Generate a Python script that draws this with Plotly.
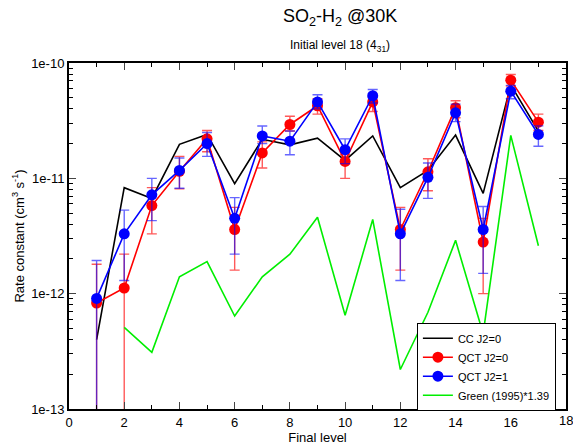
import plotly.graph_objects as go

levels = list(range(1, 18))
cc_j0 = [4.0e-13, 8.3e-12, 6.7e-12, 1.97e-11, 2.4e-11, 9.0e-12, 2.18e-11, 1.95e-11, 2.23e-11,
         1.43e-11, 2.33e-11, 8.3e-12, 1.17e-11, 2.37e-11, 7.4e-12, 6.45e-11, 2.57e-11]

qct_j0 = [8.3e-13, 1.12e-12, 5.8e-12, 1.15e-11, 2.2e-11, 3.6e-12, 1.66e-11, 2.93e-11, 4.26e-11,
          1.4e-11, 4.6e-11, 3.6e-12, 1.14e-11, 4.1e-11, 2.8e-12, 7.1e-11, 3.07e-11]
qct_j0_hi = [1.8e-12, 2.2e-12, 8.3e-12, 1.55e-11, 2.6e-11, 5.6e-12, 2.07e-11, 3.45e-11, 4.9e-11,
             1.6e-11, 5.1e-11, 5.6e-12, 1.48e-11, 4.7e-11, 4.5e-12, 7.95e-11, 3.6e-11]
qct_j0_lo = [1e-15, 1e-15, 3.3e-12, 8.1e-12, 1.7e-11, 1.6e-12, 1.23e-11, 2.57e-11, 3.6e-11,
             1.0e-11, 3.8e-11, 1.6e-12, 7.8e-12, 3.35e-11, 1.0e-12, 6.3e-11, 2.6e-11]

qct_j1 = [9.1e-13, 3.3e-12, 7.2e-12, 1.17e-11, 2.0e-11, 4.5e-12, 2.33e-11, 2.1e-11, 4.6e-11,
          1.77e-11, 5.2e-11, 3.3e-12, 1.02e-11, 3.7e-11, 3.6e-12, 5.7e-11, 2.4e-11]
qct_j1_hi = [1.94e-12, 5.3e-12, 1.0e-11, 1.5e-11, 2.5e-11, 6.8e-12, 2.84e-11, 2.57e-11, 5.3e-11,
             2.2e-11, 5.9e-11, 5.4e-12, 1.36e-11, 4.4e-11, 5.7e-12, 6.4e-11, 2.85e-11]
qct_j1_lo = [1e-15, 1.3e-12, 4.3e-12, 8.2e-12, 1.55e-11, 2.2e-12, 2.0e-11, 1.6e-11, 4.0e-11,
             1.34e-11, 4.5e-11, 1.3e-12, 6.7e-12, 3.1e-11, 1.5e-12, 4.9e-11, 1.9e-11]

green_levels = list(range(2, 18))
green = [5.1e-13, 3.1e-13, 1.4e-12, 1.9e-12, 6.4e-13, 1.4e-12, 2.2e-12, 4.6e-12, 6.5e-13,
         4.4e-12, 2.2e-13, 6.9e-13, 2.9e-12, 4.5e-13, 2.36e-11, 2.6e-12]

x_ticks = list(range(0, 19, 2))
y_tickvals = [1e-13, 1e-12, 1e-11, 1e-10]
y_ticktext = ["1e-13", "1e-12", "1e-11", "1e-10"]


def err(v, hi, lo):
    return [h - a for a, h in zip(v, hi)], [a - l for a, l in zip(v, lo)]


fig = go.Figure()
fig.add_trace(go.Scatter(x=levels, y=cc_j0, mode="lines", name="CC J2=0",
                         line=dict(color="black", width=1.6)))
p, m = err(qct_j0, qct_j0_hi, qct_j0_lo)
fig.add_trace(go.Scatter(x=levels, y=qct_j0, mode="lines+markers", name="QCT J2=0",
                         line=dict(color="#ff0000", width=1.6),
                         marker=dict(color="#ff0000", size=11),
                         error_y=dict(type="data", symmetric=False, array=p, arrayminus=m,
                                      color="rgba(255,0,0,0.65)", thickness=1.4, width=5)))
p, m = err(qct_j1, qct_j1_hi, qct_j1_lo)
fig.add_trace(go.Scatter(x=levels, y=qct_j1, mode="lines+markers", name="QCT J2=1",
                         line=dict(color="#0000ff", width=1.6),
                         marker=dict(color="#0000ff", size=11),
                         error_y=dict(type="data", symmetric=False, array=p, arrayminus=m,
                                      color="rgba(0,0,255,0.6)", thickness=1.4, width=5)))
fig.add_trace(go.Scatter(x=green_levels, y=green, mode="lines", name="Green (1995)*1.39",
                         line=dict(color="#00ee00", width=1.6)))

fig.update_layout(
    width=573, height=446,
    margin=dict(l=69, r=5, t=63, b=33),
    paper_bgcolor="white", plot_bgcolor="white",
    font=dict(family="Liberation Sans, Arial, sans-serif", color="black", size=12),
    showlegend=True,
    legend=dict(x=0.70, y=-0.005, xanchor="left", yanchor="bottom",
                bgcolor="white", bordercolor="black", borderwidth=1,
                font=dict(size=11), tracegroupgap=0, itemwidth=30),
    annotations=[
        dict(text="SO<sub>2</sub>-H<sub>2</sub> @30K", xref="paper", yref="paper",
             x=0.545, y=1.0, yshift=32, xanchor="center", yanchor="bottom",
             showarrow=False, font=dict(size=18)),
        dict(text="Initial level 18 (4<sub>31</sub>)", xref="paper", yref="paper",
             x=0.545, y=1.0, yshift=7, xanchor="center", yanchor="bottom",
             showarrow=False, font=dict(size=12)),
        dict(text="18", xref="x", yref="paper", x=18, y=0, yshift=-2,
             xanchor="center", yanchor="top", showarrow=False, font=dict(size=13)),
    ],
)
fig.update_xaxes(range=[0, 18], tickvals=x_ticks[:-1], ticks="inside", ticklen=7, tickwidth=1,
                 minor=dict(tickvals=list(range(0, 19)), ticks="inside", ticklen=4, tickcolor="black"),
                 showline=True, linewidth=2, linecolor="black", mirror="ticks",
                 showgrid=False, zeroline=False, tickfont=dict(size=13),
                 title=dict(text="Final level", font=dict(size=13), standoff=2))
fig.update_yaxes(type="log", range=[-13, -10], tickvals=y_tickvals, ticktext=y_ticktext,
                 ticks="inside", ticklen=7, tickwidth=1,
                 minor=dict(ticks="inside", ticklen=4, tickcolor="black", dtick="D1"),
                 showline=True, linewidth=2, linecolor="black", mirror="ticks",
                 showgrid=False, zeroline=False, tickfont=dict(size=13),
                 title=dict(text="Rate constant (cm<sup>3</sup> s<sup>-1</sup>)", font=dict(size=13), standoff=4))

fig.write_html("out.html")
